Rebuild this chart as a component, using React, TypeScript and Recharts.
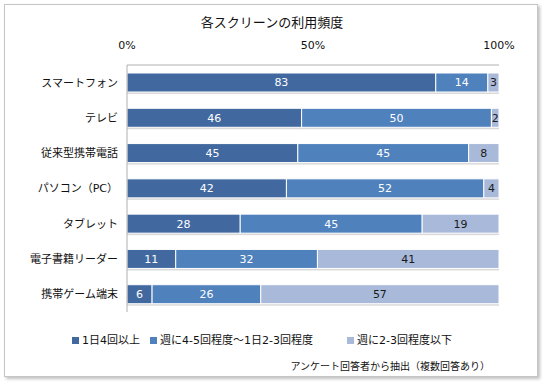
import { Bar, BarChart, XAxis, YAxis, LabelList } from 'recharts';

const categories = ['スマートフォン', 'テレビ', '従来型携帯電話', 'パソコン（PC）', 'タブレット', '電子書籍リーダー', '携帯ゲーム端末'];
const daily4 = [83, 46, 45, 42, 28, 11, 6];
const weekly45 = [14, 50, 45, 52, 45, 32, 26];
const weekly23 = [3, 2, 8, 4, 19, 41, 57];
const seriesNames = ['1日4回以上', '週に4-5回程度～1日2-3回程度', '週に2-3回程度以下'];
const seriesKeys = ['a', 'b', 'c'];
const colors = ['#41699F', '#4F81BD', '#A9B9D9'];
const labelColors = ['#ffffff', '#ffffff', '#1a1a1a'];
const xTicks = [0, 0.5, 1];

const data = categories.map((name, i) => ({ name, a: daily4[i], b: weekly45[i], c: weekly23[i] }));

const font = "'DejaVu Sans', 'Noto Sans CJK JP', sans-serif";

function ShadowBar(props: any) {
  const { x, y, width, height, fill } = props;
  if (!width || width <= 0) return null;
  return (
    <g>
      <rect x={x} y={y + 2} width={width} height={height} fill="#000" opacity={0.15} />
      <rect x={x} y={y} width={width} height={height} fill={fill} stroke="#fff" strokeWidth={1} />
    </g>
  );
}

export default function App() {
  return (
    <div style={{ position: 'absolute', left: 0, top: 0, width: 544, height: 386, background: '#fff', fontFamily: font }}>
      <div style={{ position: 'absolute', left: 4, top: 4, width: 532, height: 371, border: '1px solid #c6c6c6', boxShadow: '2px 2px 3px rgba(0,0,0,0.25)' }} />
      <div style={{ position: 'absolute', left: 0, width: 544, top: 12, textAlign: 'center', fontSize: 13, color: '#111' }}>
        各スクリーンの利用頻度
      </div>
      <div style={{ position: 'absolute', left: 0, top: 0 }}>
        <BarChart
          width={544}
          height={386}
          data={data}
          layout="vertical"
          stackOffset="expand"
          barSize={19}
          margin={{ top: 35, right: 45, bottom: 74, left: 0 }}
        >
          <XAxis
            type="number"
            orientation="top"
            domain={[0, 1]}
            ticks={xTicks}
            tickFormatter={(v) => `${Math.round(v * 100)}%`}
            tickLine={false}
            tickSize={0}
            tickMargin={16}
            axisLine={{ stroke: '#b0b0b0' }}
            height={30}
            tick={{ fontSize: 11, fill: '#111', fontFamily: font }}
          />
          <YAxis
            type="category"
            dataKey="name"
            width={127}
            tickLine={false}
            tickSize={0}
            tickMargin={9}
            axisLine={{ stroke: '#b0b0b0' }}
            tick={{ fontSize: 11, fill: '#111', fontFamily: font }}
          />
          {seriesKeys.map((k, i) => (
            <Bar key={k} dataKey={k} stackId="s" fill={colors[i]} shape={<ShadowBar />} isAnimationActive={false}>
              <LabelList dataKey={k} position="center" fill={labelColors[i]} fontSize={11} fontFamily={font} />
            </Bar>
          ))}
        </BarChart>
      </div>
      <div style={{ position: 'absolute', left: 72, top: 331, fontSize: 11, color: '#111', display: 'flex', whiteSpace: 'nowrap' }}>
        {seriesNames.map((n, i) => (
          <div key={n} style={{ display: 'flex', alignItems: 'center', marginRight: i === 1 ? 34 : 10 }}>
            <span style={{ display: 'inline-block', width: 7, height: 7, background: colors[i], marginRight: 3, marginTop: 2 }} />
            {n}
          </div>
        ))}
      </div>
      <div style={{ position: 'absolute', right: 54, top: 358, fontSize: 10, color: '#111', whiteSpace: 'nowrap' }}>
        アンケート回答者から抽出（複数回答あり）
      </div>
    </div>
  );
}
